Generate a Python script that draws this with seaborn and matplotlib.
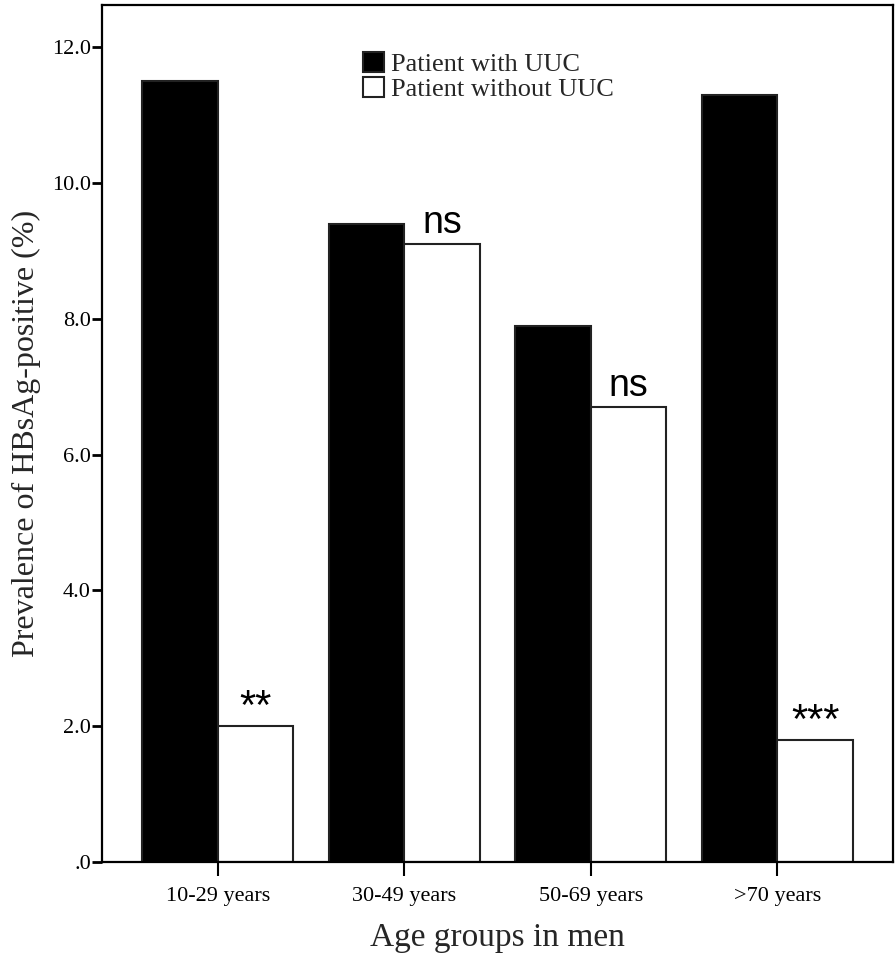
import matplotlib
matplotlib.use("Agg")
import matplotlib.pyplot as plt
import seaborn as sns
import pandas as pd

groups = ["10-29 years", "30-49 years", "50-69 years", ">70 years"]
with_uuc = [11.5, 9.4, 7.9, 11.3]
without_uuc = [2.0, 9.1, 6.7, 1.8]
series_names = ["Patient with UUC", "Patient without UUC"]
annotations = ["**", "ns", "ns", "***"]
yticks = [0, 2, 4, 6, 8, 10, 12]
ytick_labels = [".0", "2.0", "4.0", "6.0", "8.0", "10.0", "12.0"]

df = pd.DataFrame({
    "group": groups * 2,
    "value": with_uuc + without_uuc,
    "series": [series_names[0]] * 4 + [series_names[1]] * 4,
})

sns.set_theme(style="white")
plt.rcParams["font.family"] = ["Liberation Serif", "DejaVu Serif"]

fig = plt.figure(figsize=(8.96, 9.57), dpi=100)
ax = fig.add_axes([0.1138, 0.0993, 0.8829, 0.8955])

sns.barplot(data=df, x="group", y="value", hue="series", order=groups,
            hue_order=series_names,
            palette={series_names[0]: "black", series_names[1]: "white"},
            width=0.81, edgecolor="#222222", linewidth=1.5, ax=ax,
            errorbar=None, legend=True)

ax.set_xlim(-0.62, 3.62)
ax.set_ylim(0, 12.62)
ax.set_yticks(yticks)
ax.set_yticklabels(ytick_labels)

for s in ax.spines.values():
    s.set_linewidth(1.6)
    s.set_color("black")
    s.set_visible(True)

ax.tick_params(axis="y", direction="out", length=7, width=2, colors="black",
               labelsize=16, left=True, pad=1)
ax.tick_params(axis="x", direction="out", length=10, width=1.5, colors="black",
               labelsize=16, bottom=True, pad=8)

ax.set_xlabel("Age groups in men", fontsize=24, labelpad=12)
ax.set_ylabel("Prevalence of HBsAg-positive (%)", fontsize=23, labelpad=8)

# annotations above the white bars
bar_w = 0.81 / 2
for i, (v, t) in enumerate(zip(without_uuc, annotations)):
    is_star = t.startswith("*")
    ax.text(i + bar_w / 2, v + (0.1 if is_star else 0.16), t,
            ha="center", va="baseline", fontsize=30 if is_star else 27,
            family=["Liberation Sans", "DejaVu Sans"], color="black")

leg = ax.legend(loc="upper left", bbox_to_anchor=(0.317, 0.958), frameon=False,
                fontsize=19, handlelength=0.8, handleheight=0.8,
                handletextpad=0.25, labelspacing=0.05, borderaxespad=0)
for h in leg.legend_handles:
    h.set_edgecolor("#222222")
    h.set_linewidth(1.5)

fig.savefig("out.png", dpi=100)
